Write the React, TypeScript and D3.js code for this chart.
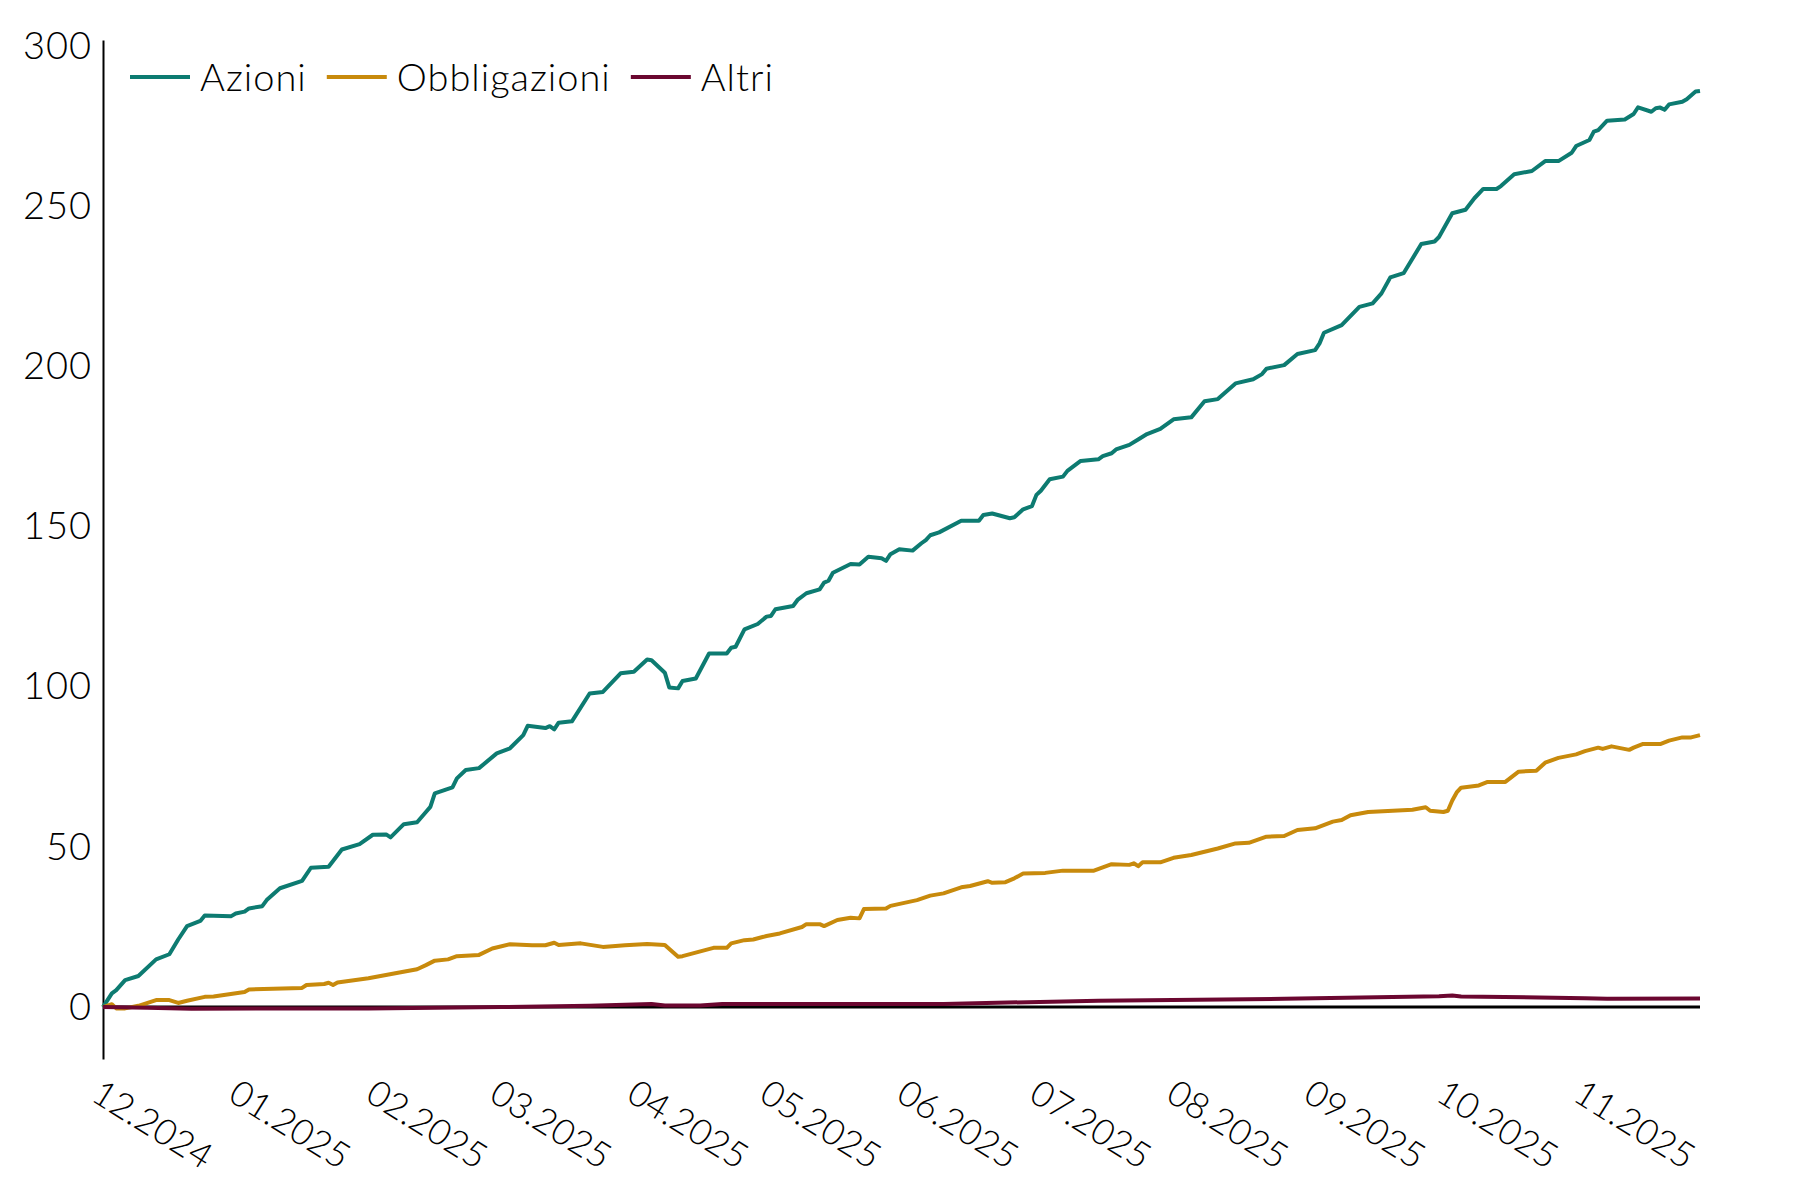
import * as d3 from 'd3';
import { useEffect, useRef } from 'react';

// Flussi cumulati (mld)
const azioni: [string, number][] = [
  ['2024-12-01', 0], ['2024-12-03', 4.3], ['2024-12-04', 5.3], ['2024-12-06', 8.4],
  ['2024-12-09', 9.7], ['2024-12-13', 14.9], ['2024-12-16', 16.5], ['2024-12-18', 21.1],
  ['2024-12-20', 25.3], ['2024-12-23', 26.9], ['2024-12-24', 28.6], ['2024-12-30', 28.4],
  ['2024-12-31', 29.2], ['2025-01-02', 29.8], ['2025-01-03', 30.8], ['2025-01-06', 31.5],
  ['2025-01-07', 33.4], ['2025-01-10', 37.1], ['2025-01-15', 39.4], ['2025-01-17', 43.5],
  ['2025-01-21', 43.8], ['2025-01-24', 49.2], ['2025-01-28', 50.9], ['2025-01-31', 53.8],
  ['2025-02-03', 53.9], ['2025-02-04', 53.0], ['2025-02-07', 57.1], ['2025-02-10', 57.7],
  ['2025-02-12', 60.9], ['2025-02-13', 62.5], ['2025-02-14', 66.7], ['2025-02-18', 68.6],
  ['2025-02-19', 71.4], ['2025-02-21', 74.0], ['2025-02-24', 74.6], ['2025-02-28', 79.2],
  ['2025-03-03', 80.8], ['2025-03-06', 84.9], ['2025-03-07', 87.8], ['2025-03-11', 87.1],
  ['2025-03-12', 87.7], ['2025-03-13', 86.7], ['2025-03-14', 88.8], ['2025-03-17', 89.2],
  ['2025-03-21', 97.9], ['2025-03-24', 98.4], ['2025-03-26', 101.3], ['2025-03-28', 104.2],
  ['2025-03-31', 104.7], ['2025-04-03', 108.5], ['2025-04-04', 108.3], ['2025-04-07', 104.4],
  ['2025-04-08', 99.8], ['2025-04-10', 99.5], ['2025-04-11', 101.8], ['2025-04-14', 102.6],
  ['2025-04-17', 110.4], ['2025-04-21', 110.4], ['2025-04-22', 112.2], ['2025-04-23', 112.5],
  ['2025-04-25', 117.9], ['2025-04-28', 119.6], ['2025-04-30', 121.9], ['2025-05-01', 122.1],
  ['2025-05-02', 124.2], ['2025-05-06', 125.2], ['2025-05-07', 127.1], ['2025-05-09', 129.2],
  ['2025-05-12', 130.4], ['2025-05-13', 132.5], ['2025-05-14', 133.1], ['2025-05-15', 135.6],
  ['2025-05-19', 138.3], ['2025-05-21', 138.2], ['2025-05-23', 140.6], ['2025-05-26', 140.1],
  ['2025-05-27', 139.3], ['2025-05-28', 141.4], ['2025-05-30', 142.9], ['2025-06-02', 142.5],
  ['2025-06-04', 144.8], ['2025-06-05', 145.8], ['2025-06-06', 147.3], ['2025-06-08', 148.2],
  ['2025-06-13', 151.8], ['2025-06-17', 151.8], ['2025-06-18', 153.6], ['2025-06-20', 154.1],
  ['2025-06-24', 152.6], ['2025-06-25', 152.9], ['2025-06-27', 155.4], ['2025-06-29', 156.4],
  ['2025-06-30', 159.9], ['2025-07-01', 161.2], ['2025-07-03', 164.8], ['2025-07-06', 165.6],
  ['2025-07-07', 167.4], ['2025-07-10', 170.5], ['2025-07-14', 171.0], ['2025-07-15', 172.0],
  ['2025-07-17', 172.9], ['2025-07-18', 174.1], ['2025-07-21', 175.5], ['2025-07-23', 177.2],
  ['2025-07-25', 178.9], ['2025-07-28', 180.5], ['2025-07-31', 183.5], ['2025-08-04', 184.1],
  ['2025-08-07', 189.1], ['2025-08-10', 189.8], ['2025-08-14', 194.7], ['2025-08-18', 196.0],
  ['2025-08-20', 197.6], ['2025-08-21', 199.3], ['2025-08-25', 200.4], ['2025-08-28', 203.9],
  ['2025-09-01', 205.1], ['2025-09-02', 207.2], ['2025-09-03', 210.5], ['2025-09-07', 212.9],
  ['2025-09-11', 218.6], ['2025-09-14', 219.7], ['2025-09-16', 222.8], ['2025-09-18', 227.8],
  ['2025-09-21', 229.1], ['2025-09-25', 238.2], ['2025-09-28', 239.0], ['2025-09-29', 240.4],
  ['2025-10-02', 247.8], ['2025-10-05', 248.9], ['2025-10-07', 252.5], ['2025-10-09', 255.4],
  ['2025-10-12', 255.4], ['2025-10-13', 256.3], ['2025-10-16', 260.0], ['2025-10-20', 261.0],
  ['2025-10-23', 264.1], ['2025-10-26', 264.1], ['2025-10-29', 266.7], ['2025-10-30', 268.8],
  ['2025-11-02', 270.7], ['2025-11-03', 273.3], ['2025-11-04', 273.8], ['2025-11-06', 276.7],
  ['2025-11-10', 277.1], ['2025-11-12', 278.8], ['2025-11-13', 280.9], ['2025-11-16', 279.5],
  ['2025-11-17', 280.6], ['2025-11-18', 280.8], ['2025-11-19', 280.1], ['2025-11-20', 281.8],
  ['2025-11-23', 282.6], ['2025-11-24', 283.4], ['2025-11-26', 285.8], ['2025-11-27', 286.0],
];

const obbligazioni: [string, number][] = [
  ['2024-12-01', 0], ['2024-12-03', 0.9], ['2024-12-04', -0.4], ['2024-12-06', -0.4],
  ['2024-12-09', 0.4], ['2024-12-13', 2.2], ['2024-12-16', 2.2], ['2024-12-18', 1.3],
  ['2024-12-20', 2.0], ['2024-12-24', 3.2], ['2024-12-26', 3.3], ['2025-01-02', 4.7],
  ['2025-01-03', 5.5], ['2025-01-15', 6.0], ['2025-01-16', 6.9], ['2025-01-20', 7.2],
  ['2025-01-21', 7.6], ['2025-01-22', 6.9], ['2025-01-23', 7.7], ['2025-01-30', 9.0],
  ['2025-02-06', 10.8], ['2025-02-10', 11.8], ['2025-02-12', 13.1], ['2025-02-14', 14.5],
  ['2025-02-17', 14.9], ['2025-02-19', 15.9], ['2025-02-24', 16.3], ['2025-02-27', 18.3],
  ['2025-03-03', 19.6], ['2025-03-08', 19.3], ['2025-03-11', 19.3], ['2025-03-13', 20.1],
  ['2025-03-14', 19.4], ['2025-03-19', 19.9], ['2025-03-24', 18.8], ['2025-03-29', 19.3],
  ['2025-04-03', 19.7], ['2025-04-07', 19.4], ['2025-04-10', 15.7], ['2025-04-11', 15.9],
  ['2025-04-18', 18.5], ['2025-04-21', 18.5], ['2025-04-22', 19.9], ['2025-04-25', 20.9],
  ['2025-04-27', 21.1], ['2025-04-30', 22.2], ['2025-05-03', 23.0], ['2025-05-08', 25.0],
  ['2025-05-09', 25.9], ['2025-05-12', 25.9], ['2025-05-13', 25.3], ['2025-05-16', 27.2],
  ['2025-05-19', 27.9], ['2025-05-21', 27.7], ['2025-05-22', 30.6], ['2025-05-27', 30.8],
  ['2025-05-28', 31.6], ['2025-06-03', 33.4], ['2025-06-06', 34.8], ['2025-06-09', 35.5],
  ['2025-06-13', 37.4], ['2025-06-15', 37.8], ['2025-06-19', 39.3], ['2025-06-20', 38.8],
  ['2025-06-23', 39.0], ['2025-06-25', 40.2], ['2025-06-27', 41.7], ['2025-07-02', 41.9],
  ['2025-07-06', 42.6], ['2025-07-13', 42.6], ['2025-07-17', 44.6], ['2025-07-21', 44.4],
  ['2025-07-22', 44.9], ['2025-07-23', 44.0], ['2025-07-24', 45.2], ['2025-07-28', 45.2],
  ['2025-07-31', 46.6], ['2025-08-04', 47.5], ['2025-08-07', 48.5], ['2025-08-10', 49.5],
  ['2025-08-14', 51.1], ['2025-08-17', 51.3], ['2025-08-21', 53.2], ['2025-08-25', 53.4],
  ['2025-08-28', 55.3], ['2025-09-01', 55.8], ['2025-09-05', 57.9], ['2025-09-07', 58.4],
  ['2025-09-09', 59.9], ['2025-09-13', 60.9], ['2025-09-23', 61.6], ['2025-09-26', 62.4],
  ['2025-09-27', 61.3], ['2025-09-30', 60.9], ['2025-10-01', 61.3], ['2025-10-02', 64.5],
  ['2025-10-03', 67.0], ['2025-10-04', 68.5], ['2025-10-08', 69.2], ['2025-10-10', 70.3],
  ['2025-10-14', 70.3], ['2025-10-17', 73.5], ['2025-10-21', 73.8], ['2025-10-23', 76.3],
  ['2025-10-26', 77.8], ['2025-10-30', 78.9], ['2025-11-01', 79.9], ['2025-11-04', 81.0],
  ['2025-11-05', 80.6], ['2025-11-07', 81.4], ['2025-11-11', 80.3], ['2025-11-12', 81.0],
  ['2025-11-14', 82.1], ['2025-11-18', 82.1], ['2025-11-20', 83.2], ['2025-11-23', 84.2],
  ['2025-11-25', 84.2], ['2025-11-27', 84.9],
];

const altri: [string, number][] = [
  ['2024-12-01', 0], ['2024-12-11', -0.2], ['2024-12-21', -0.5], ['2025-01-30', -0.4],
  ['2025-03-01', 0], ['2025-03-21', 0.4], ['2025-03-31', 0.8], ['2025-04-04', 1.0],
  ['2025-04-07', 0.5], ['2025-04-15', 0.5], ['2025-04-20', 1.0], ['2025-06-09', 1.0],
  ['2025-07-14', 2.0], ['2025-08-25', 2.6], ['2025-09-29', 3.4], ['2025-10-02', 3.6],
  ['2025-10-04', 3.3], ['2025-11-01', 2.8], ['2025-11-06', 2.6], ['2025-11-27', 2.7],
];

const series = [
  { name: 'Azioni', data: azioni, color: '#0d7b71' },
  { name: 'Obbligazioni', data: obbligazioni, color: '#c88a0c' },
  { name: 'Altri', data: altri, color: '#6b0730' },
];

const yTicks = [0, 50, 100, 150, 200, 250, 300];
const xStart = '2024-12-01';
const xEnd = '2025-11-27';

const W = 1800;
const H = 1200;
const FONT = 'Lato, "Noto Sans", sans-serif';

export default function App() {
  const svgRef = useRef<SVGSVGElement>(null);

  useEffect(() => {
    if (!svgRef.current) return;
    const svg = d3.select(svgRef.current);
    svg.selectAll('*').remove();

    const parse = d3.timeParse('%Y-%m-%d');
    const x = d3
      .scaleTime()
      .domain([parse(xStart)!, parse(xEnd)!])
      .range([103, 1700]);
    const y = d3.scaleLinear().domain([-16.2, 301.9]).range([1059, 40]);

    // Y axis
    const yAxis = svg
      .append('g')
      .attr('transform', `translate(${x.range()[0]},0)`)
      .call(d3.axisLeft(y).tickValues(yTicks).tickSize(0).tickPadding(11));
    yAxis.select('.domain').attr('stroke', '#000').attr('stroke-width', 2);
    yAxis
      .selectAll('text')
      .attr('font-family', FONT)
      .attr('font-size', '38px')
      .attr('letter-spacing', 1)
      .attr('font-weight', 300)
      .attr('fill', '#000');

    // X axis labels (rotated)
    const months = d3.timeMonth.range(x.domain()[0], x.domain()[1]);
    const xAxis = svg
      .append('g')
      .attr('transform', 'translate(0,1077)')
      .call(
        d3
          .axisBottom(x)
          .tickValues(months)
          .tickSize(0)
          .tickFormat((d) => d3.timeFormat('%m.%Y')(d as Date))
      );
    xAxis.select('.domain').remove();
    xAxis
      .selectAll('text')
      .attr('y', 0)
      .attr('x', 0)
      .attr('dy', '0.74em')
      .attr('text-anchor', 'start')
      .attr('transform', 'rotate(32)')
      .attr('font-family', FONT)
      .attr('font-size', '36px')
      .attr('font-weight', 300)
      .attr('fill', '#000');

    // Zero line
    svg
      .append('line')
      .attr('x1', x.range()[0])
      .attr('x2', x.range()[1])
      .attr('y1', y(0))
      .attr('y2', y(0))
      .attr('stroke', '#000')
      .attr('stroke-width', 3);

    // Lines
    for (const s of series) {
      const line = d3
        .line<[string, number]>()
        .x((d) => x(parse(d[0])!))
        .y((d) => y(d[1]));
      svg
        .append('path')
        .datum(s.data)
        .attr('fill', 'none')
        .attr('stroke', s.color)
        .attr('stroke-width', 4)
        .attr('stroke-linejoin', 'round')
        .attr('d', line);
    }

    // Legend
    const legend = svg.append('g').attr('transform', 'translate(130,77)');
    let lx = 0;
    for (const s of series) {
      legend
        .append('line')
        .attr('x1', lx)
        .attr('x2', lx + 60)
        .attr('y1', 0)
        .attr('y2', 0)
        .attr('stroke', s.color)
        .attr('stroke-width', 4);
      const t = legend
        .append('text')
        .attr('x', lx + 70)
        .attr('y', 14)
        .attr('font-family', FONT)
        .attr('font-size', '38px')
        .attr('letter-spacing', 1)
        .attr('font-weight', 300)
        .attr('fill', '#000')
        .text(s.name);
      const tw = (t.node() as SVGTextElement).getComputedTextLength();
      lx += 70 + tw + 20;
    }
  }, []);

  return (
    <svg
      ref={svgRef}
      width={W}
      height={H}
      style={{ position: 'absolute', left: 0, top: 0, background: '#fff' }}
    />
  );
}
